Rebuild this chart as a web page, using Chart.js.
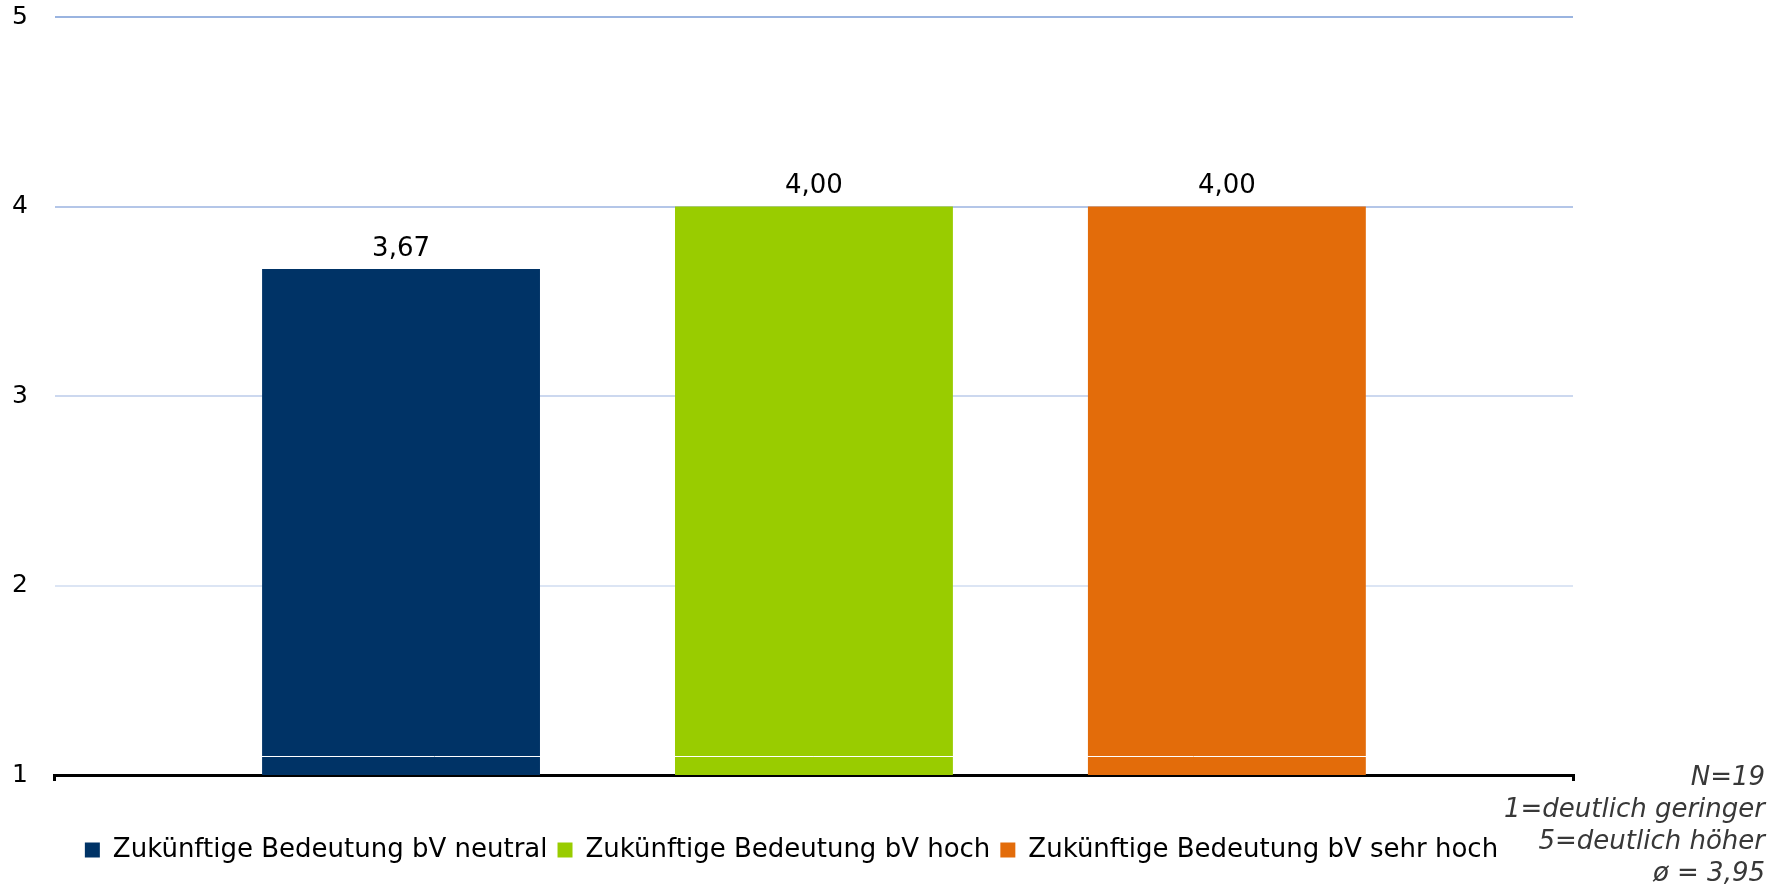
<!DOCTYPE html>
<html>
<head>
<meta charset="utf-8">
<script src="https://cdn.jsdelivr.net/npm/chart.js@4.4.0/dist/chart.umd.min.js"></script>
<style>
html,body{margin:0;padding:0;background:#fff;}
#wrap{width:1783px;height:885px;position:relative;}
</style>
</head>
<body>
<div id="wrap"><canvas id="c" width="1783" height="885"></canvas></div>
<script>
const categories = [''];
const seriesNames = ['Zukünftige Bedeutung bV neutral', 'Zukünftige Bedeutung bV hoch', 'Zukünftige Bedeutung bV sehr hoch'];
const seriesValues = [3.67, 4.00, 4.00];
const seriesColors = ['#003366', '#99cc00', '#e36c0a'];
const yTicks = [1, 2, 3, 4, 5];
const noteLines = ['N=19', '1=deutlich geringer', '5=deutlich höher', 'ø = 3,95'];

const FONT = 'DejaVu Sans';
const gridColors = {2: '#dce5f4', 3: '#ccd8ef', 4: '#b4c6e8', 5: '#9ab4e0'};

const datasets = seriesNames.map((name, i) => ({
  label: name,
  data: [seriesValues[i]],
  backgroundColor: seriesColors[i],
  borderWidth: 0,
  barPercentage: 0.673,
  categoryPercentage: 0.816
}));

const labelPlugin = {
  id: 'valueLabels',
  afterDatasetsDraw(chart) {
    const ctx = chart.ctx;
    const y = chart.scales.y;
    ctx.save();
    // thin white line across bars
    ctx.strokeStyle = '#ffffff';
    ctx.lineWidth = 1;
    const wy = Math.round(y.getPixelForValue(1.1)) + 0.5;
    ctx.beginPath();
    ctx.moveTo(chart.chartArea.left, wy);
    ctx.lineTo(chart.chartArea.right, wy);
    ctx.stroke();
    // value labels
    ctx.font = '26px "' + FONT + '"';
    ctx.fillStyle = '#000000';
    ctx.textAlign = 'center';
    ctx.textBaseline = 'middle';
    chart.data.datasets.forEach((ds, i) => {
      const meta = chart.getDatasetMeta(i);
      meta.data.forEach((bar, j) => {
        const v = ds.data[j];
        ctx.fillText(v.toFixed(2).replace('.', ','), bar.x, bar.y - 20);
      });
    });
    // notes on the right
    ctx.font = 'italic 26px "' + FONT + '"';
    ctx.fillStyle = '#383838';
    ctx.textAlign = 'right';
    const x = chart.width - 18;
    noteLines.forEach((t, k) => {
      ctx.fillText(t, x, chart.chartArea.bottom + 3 + k * 32);
    });
    ctx.restore();
  }
};

new Chart(document.getElementById('c'), {
  type: 'bar',
  data: { labels: categories, datasets: datasets },
  options: {
    responsive: false,
    animation: false,
    layout: { padding: { left: 10, right: 210, top: 6, bottom: 12 } },
    plugins: {
      legend: {
        position: 'bottom',
        labels: {
          font: { family: FONT, size: 26 },
          color: '#000000',
          boxWidth: 15,
          boxHeight: 15,
          padding: 10
        }
      },
      tooltip: { enabled: false }
    },
    scales: {
      x: {
        offset: true,
        grid: { display: true, drawOnChartArea: false, drawTicks: true, tickLength: 6, color: '#000000', lineWidth: 3 },
        border: { display: true, color: '#000000', width: 3 },
        ticks: { display: true, font: { family: FONT, size: 20 }, padding: 11, color: '#000000' }
      },
      y: {
        min: yTicks[0],
        max: yTicks[yTicks.length - 1],
        afterBuildTicks(scale) { scale.ticks = yTicks.map(v => ({ value: v })); },
        border: { display: false },
        grid: {
          drawTicks: true,
          tickLength: 25,
          tickColor: 'rgba(0,0,0,0)',
          lineWidth: 2,
          color: (c) => gridColors[c.tick && c.tick.value] || 'rgba(0,0,0,0)'
        },
        ticks: {
          font: { family: FONT, size: 25 },
          color: '#000000',
          padding: 2
        }
      }
    }
  },
  plugins: [labelPlugin]
});
</script>
</body>
</html>
